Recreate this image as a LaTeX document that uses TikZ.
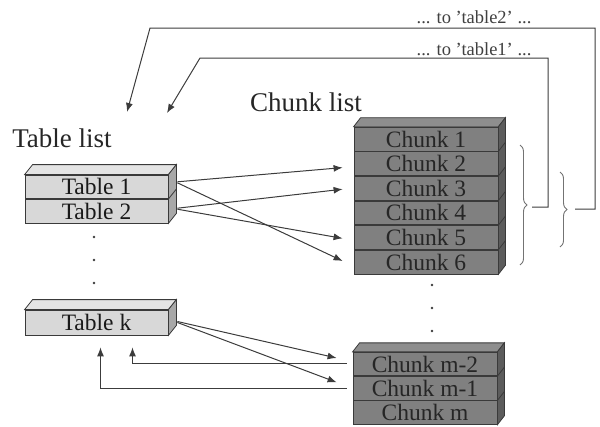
\documentclass[tikz,border=0pt]{standalone}
\usepackage{fontspec}
\setmainfont{Liberation Serif}
\usepackage{xcolor}
\usetikzlibrary{positioning, arrows.meta, calc, decorations.pathreplacing}

\definecolor{tabfront}{HTML}{D8D8D8}
\definecolor{tabtop}{HTML}{E4E4E4}
\definecolor{tabside}{HTML}{A8A8A8}
\definecolor{chunkfront}{HTML}{808080}
\definecolor{chunktop}{HTML}{8E8E8E}
\definecolor{chunkside}{HTML}{5C5C5C}
\definecolor{edge}{HTML}{3A3A3A}
\definecolor{linegray}{HTML}{3C3C3C}

\begin{document}
\begin{tikzpicture}[x=1pt, y=-1pt,
  line/.style={draw=linegray, line width=1pt},
  arr/.style={line, -{Latex[length=9pt,width=7pt]}},
  tabrow/.style={rectangle, draw=edge, fill=tabfront, line width=0.8pt,
                 minimum width=143pt, minimum height=23.6pt, inner sep=0pt,
                 text=black!90, font=\fontsize{23.5}{23.5}\selectfont},
  chunkrow/.style={tabrow, fill=chunkfront, minimum width=144pt,
                   minimum height=23.8pt, text=black!85},
  tabface/.style={draw=edge, line width=0.8pt, fill=#1},
  head/.style={font=\fontsize{27}{27}\selectfont, text=black!85},
  small/.style={font=\fontsize{18.5}{18.5}\selectfont, text=black!75},
  curly/.style={draw=black!55, line width=0.9pt,
                decorate, decoration={brace, amplitude=7pt}}
]
  \useasboundingbox (0,0) rectangle (600,426);

  % headings
  \node[head] (tlist) at (62,138) {Table list};
  \node[head] (clist) at (306,102) {Chunk list};

  % table list
  \node[tabrow] (t1) at (96.5,186.8) {Table 1};
  \node[tabrow, below=0pt of t1] (t2) {Table 2};
  \node[tabrow, minimum height=25pt] (tk) at (96.5,322.5) {Table k};
  \foreach \y in {237,260,283}
    \fill[linegray] (94,\y) circle (1.3);

  % chunk list
  \node[chunkrow] (c1) at (426,139) {Chunk 1};
  \foreach \i [count=\j from 1] in {2,...,6}
    \node[chunkrow, below=0pt of c\j] (c\i) {Chunk \i};
  \node[chunkrow, minimum height=23.5pt] (cm2) at (425,364) {Chunk m-2};
  \node[chunkrow, minimum height=23.5pt, below=0pt of cm2] (cm1) {Chunk m-1};
  \node[chunkrow, minimum height=23.5pt, below=0pt of cm1] (cm) {Chunk m};
  \foreach \y in {285,308,331}
    \fill[linegray] (432,\y) circle (1.3);

  % 3d faces
  \filldraw[tabface=tabtop] (t1.north west) -- ++(8,-10)
    -- ($(t1.north east)+(8,-10)$) -- (t1.north east) -- cycle;
  \filldraw[tabface=tabside] (t1.north east) -- ++(8,-10)
    -- ($(t2.south east)+(8,-10)$) -- (t2.south east) -- cycle;
  \draw[tabface=none] (t1.south east) -- ++(8,-10);
  \filldraw[tabface=tabtop] (tk.north west) -- ++(8,-10)
    -- ($(tk.north east)+(8,-10)$) -- (tk.north east) -- cycle;
  \filldraw[tabface=tabside] (tk.north east) -- ++(8,-10)
    -- ($(tk.south east)+(8,-10)$) -- (tk.south east) -- cycle;

  \filldraw[tabface=chunktop] (c1.north west) -- ++(7,-9)
    -- ($(c1.north east)+(7,-9)$) -- (c1.north east) -- cycle;
  \filldraw[tabface=chunkside] (c1.north east) -- ++(7,-9)
    -- ($(c6.south east)+(7,-9)$) -- (c6.south east) -- cycle;
  \foreach \i in {1,...,5}
    \draw[tabface=none] (c\i.south east) -- ++(7,-9);
  \filldraw[tabface=chunktop] (cm2.north west) -- ++(7,-9)
    -- ($(cm2.north east)+(7,-9)$) -- (cm2.north east) -- cycle;
  \filldraw[tabface=chunkside] (cm2.north east) -- ++(7,-9)
    -- ($(cm.south east)+(7,-9)$) -- (cm.south east) -- cycle;
  \foreach \i in {cm2,cm1}
    \draw[tabface=none] (\i.south east) -- ++(7,-9);

  % table -> chunk pointers
  \draw[arr] ($(t1.east)+(9,-5)$) -- ($(c2.west)+(-11,4)$);
  \draw[arr] ($(t1.east)+(9,-4)$) -- ($(c6.west)+(-11,-1)$);
  \draw[arr] ($(t2.east)+(9,-3)$) -- ($(c3.west)+(-11,1)$);
  \draw[arr] ($(t2.east)+(9,-2)$) -- ($(c5.west)+(-11,1)$);
  \draw[arr] ($(tk.east)+(9,-1)$) -- ($(cm2.west)+(-16,-6)$);
  \draw[arr] ($(tk.east)+(9,0)$) -- ($(cm1.west)+(-16,-6)$);

  % chunk -> table back pointers
  \draw[arr, shorten >=12pt] ($(cm2.west)+(-6,-1)$) -| ($(tk.south)+(36,0)$);
  \draw[arr, shorten >=12pt] ($(cm1.west)+(-6,0)$) -| ($(tk.south)+(4,0)$);

  % braces and links back to the table list
  \draw[curly] (520,145) -- (520,265);
  \draw[curly] (560,172) -- (560,247);
  \coordinate (br1) at (532,207);
  \coordinate (br2) at (575,209);
  \coordinate (tip1) at (167,113);
  \coordinate (tip2) at (127,112);
  \draw[arr] (br1) -| (548,58) -- (200,58) -- (tip1);
  \draw[arr] (br2) -| (595,28) -- (150,28) -- (tip2);
  \node[small] (lab1) at (474,49) {... to 'table1' ...};
  \node[small] (lab2) at (474,17) {... to 'table2' ...};
\end{tikzpicture}
\end{document}
